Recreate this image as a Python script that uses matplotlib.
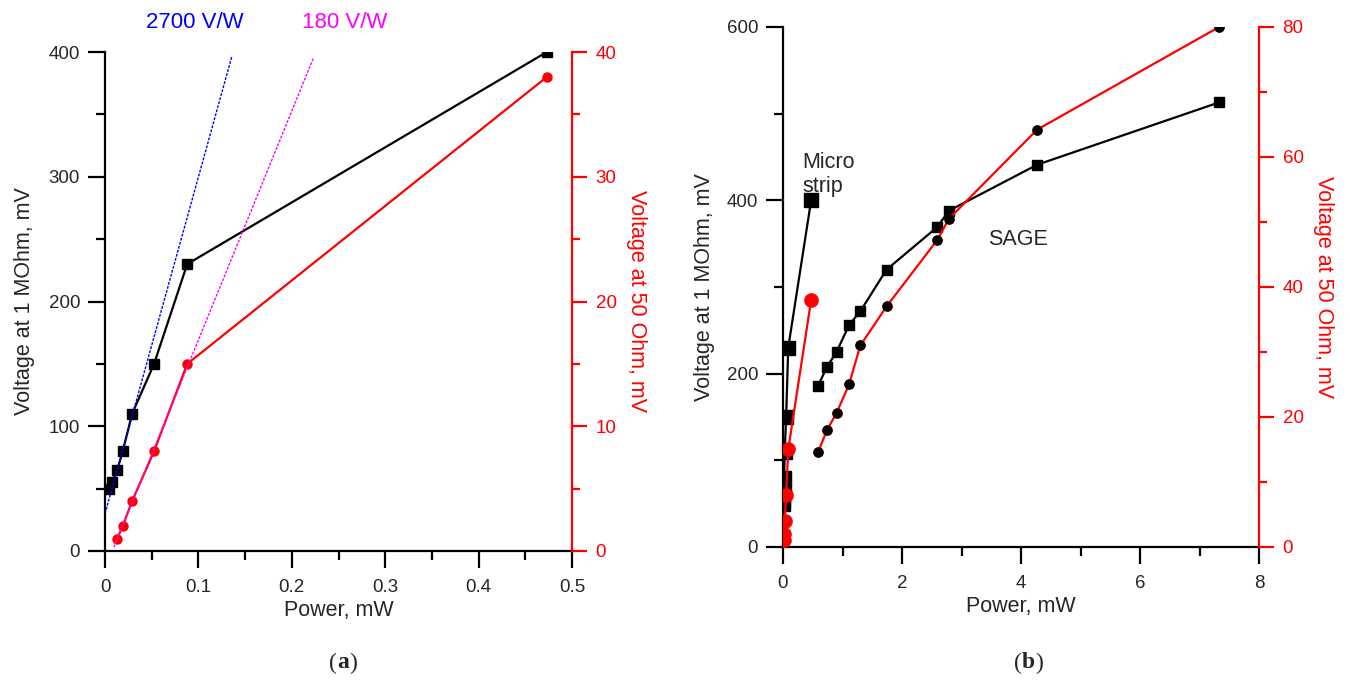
import matplotlib.pyplot as plt
from matplotlib.ticker import MultipleLocator, FixedLocator, FixedFormatter

plt.rcParams["font.family"] = ["Liberation Sans", "DejaVu Sans"]

# Microstrip detector: power (mW), voltage at 1 MOhm (mV)
micro_power = [0.004, 0.0075, 0.013, 0.019, 0.029, 0.0525, 0.088, 0.473]
micro_v1m = [50, 55, 65, 80, 110, 150, 230, 400]
# Microstrip detector: voltage at 50 Ohm (mV), measured on a subset of powers
micro_power_50 = [0.013, 0.019, 0.029, 0.0525, 0.088, 0.473]
micro_v50 = [1, 2, 4, 8, 15, 38]

# Sensitivity guide lines
blue_x = [0.0, 0.136]
blue_y = [30, 397]
magenta_x = [0.0095, 0.223]
magenta_y = [0.3, 39.5]

# SAGE detector
sage_power = [0.59, 0.74, 0.90, 1.11, 1.30, 1.74, 2.59, 2.79, 4.27, 7.33]
sage_v1m = [186, 208, 225, 256, 272, 320, 369, 388, 441, 513]
sage_v50 = [14.6, 18.0, 20.6, 25.0, 31.0, 37.0, 47.2, 50.5, 64.2, 80.0]

TXT = "#262626"
RED = "#ff0000"


def style_axes(ax, ax2):
    for a in (ax, ax2):
        a.spines["top"].set_visible(False)
        for s in a.spines.values():
            s.set_linewidth(1.6)
    ax.spines["right"].set_visible(False)
    ax2.spines["left"].set_visible(False)
    ax2.spines["bottom"].set_visible(False)
    ax2.spines["right"].set_color(RED)
    ax.tick_params(which="major", direction="out", length=12, width=1.6,
                   labelsize=13.5, labelcolor=TXT, pad=6)
    ax.tick_params(axis="x", which="major", pad=8)
    ax.tick_params(which="minor", direction="out", length=6.5, width=1.6)
    ax.tick_params(top=False, right=False)
    ax2.tick_params(axis="y", which="major", direction="out", length=11,
                    width=1.6, color=RED, labelcolor=RED, labelsize=13.5, pad=6)
    ax2.tick_params(axis="y", which="minor", direction="out", length=6,
                    width=1.6, color=RED)


def panel_label(x, y, letter):
    fig.text(x, y, "(", fontsize=17, family="Liberation Serif",
             ha="right", va="center", color=TXT)
    a = fig.text(x, y, letter, fontsize=17, family="Liberation Serif",
                 fontweight="bold", ha="left", va="center", color=TXT)
    fig.canvas.draw()
    r = fig.canvas.get_renderer()
    bb = a.get_window_extent(r)
    fig.text(bb.x1 / fig.bbox.width, y, ")", fontsize=17,
             family="Liberation Serif", ha="left", va="center", color=TXT)


fig = plt.figure(figsize=(13.5, 6.81), dpi=100)

# ---------------- panel (a) ----------------
ax = fig.add_axes([0.0778, 0.1909, 0.3459, 0.7327])
ax2 = ax.twinx()
style_axes(ax, ax2)

ax.plot(micro_power, micro_v1m, color="black", lw=1.6, marker="s",
        markersize=7, zorder=3)
ax.plot(blue_x, blue_y, color="#0000ff", lw=1.0, ls=(0, (2, 1)), zorder=4)
ax2.plot(micro_power_50, micro_v50, color=RED, lw=1.6, marker="o",
         markersize=6.5, zorder=3)
ax2.plot(magenta_x, magenta_y, color="#ff00ff", lw=1.0, ls=(0, (2, 1)),
         zorder=4)

ax.set_xlim(0, 0.5)
ax.set_ylim(0, 400)
ax2.set_ylim(0, 40)
ax.xaxis.set_major_locator(FixedLocator([0, 0.1, 0.2, 0.3, 0.4, 0.5]))
ax.xaxis.set_major_formatter(FixedFormatter(["0", "0.1", "0.2", "0.3", "0.4", "0.5"]))
ax.xaxis.set_minor_locator(MultipleLocator(0.05))
ax.yaxis.set_major_locator(MultipleLocator(100))
ax.yaxis.set_minor_locator(MultipleLocator(50))
ax2.yaxis.set_major_locator(MultipleLocator(10))
ax2.yaxis.set_minor_locator(MultipleLocator(5))

ax.set_xlabel("Power, mW", fontsize=15.5, color=TXT, labelpad=3)
ax.set_ylabel("Voltage at 1 MOhm, mV", fontsize=15.5, color=TXT, labelpad=10)
ax2.set_ylabel("Voltage at 50 Ohm, mV", fontsize=15.5, color=RED,
               rotation=-90, labelpad=22)

fig.text(146 / 1350, 1 - 22 / 681, "2700 V/W", color="#0000ff", fontsize=16,
         ha="left", va="center")
fig.text(302 / 1350, 1 - 22 / 681, "180 V/W", color="#ff00ff", fontsize=16,
         ha="left", va="center")

# ---------------- panel (b) ----------------
bx = fig.add_axes([0.58, 0.1968, 0.3526, 0.7636])
bx2 = bx.twinx()
style_axes(bx, bx2)

bx.plot(micro_power, micro_v1m, color="black", lw=1.6, marker="s",
        markersize=9.5, zorder=3)
bx.plot(sage_power, sage_v1m, color="black", lw=1.6, marker="s",
        markersize=6.5, zorder=3)
bx2.plot(micro_power_50, micro_v50, color=RED, lw=1.6, marker="o",
         markersize=9.5, zorder=3)
bx2.plot(sage_power, sage_v50, color=RED, lw=1.6, marker="o",
         markersize=6.5, zorder=3)
bx2.plot(sage_power, sage_v50, ls="none", marker="o", color="black",
         markersize=6.5, zorder=4)

bx.set_xlim(0, 8)
bx.set_ylim(0, 600)
bx2.set_ylim(0, 80)
bx.xaxis.set_major_locator(MultipleLocator(2))
bx.xaxis.set_minor_locator(MultipleLocator(1))
bx.yaxis.set_major_locator(MultipleLocator(200))
bx.yaxis.set_minor_locator(MultipleLocator(100))
bx2.yaxis.set_major_locator(MultipleLocator(20))
bx2.yaxis.set_minor_locator(MultipleLocator(10))

bx.set_xlabel("Power, mW", fontsize=15.5, color=TXT, labelpad=3)
bx.set_ylabel("Voltage at 1 MOhm, mV", fontsize=15.5, color=TXT, labelpad=8)
bx2.set_ylabel("Voltage at 50 Ohm, mV", fontsize=15.5, color=RED,
               rotation=-90, labelpad=22)

bx.text(0.33, 430, "Micro\nstrip", fontsize=15.5, color=TXT, ha="left",
        va="center", linespacing=1.2)
bx.text(3.45, 355, "SAGE", fontsize=15.5, color=TXT, ha="left", va="center")

panel_label(337 / 1350, 1 - 663 / 681, "a")
panel_label(1022 / 1350, 1 - 663 / 681, "b")

fig.savefig("out.png", dpi=100, facecolor="white")
